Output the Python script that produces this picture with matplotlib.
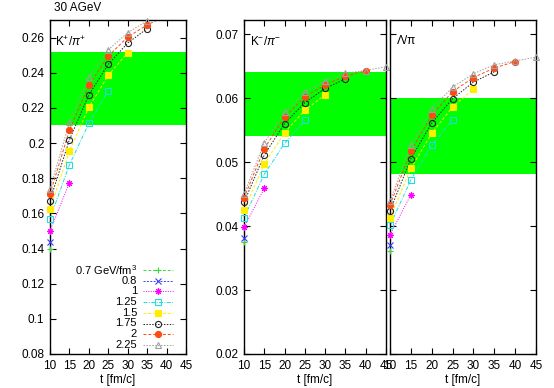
import matplotlib
matplotlib.use("Agg")
import matplotlib.pyplot as plt
import numpy as np

plt.rcParams['font.family'] = ['Liberation Sans', 'DejaVu Sans']
plt.rcParams['mathtext.fontset'] = 'custom'
plt.rcParams['mathtext.rm'] = 'Liberation Sans'
plt.rcParams['mathtext.it'] = 'Liberation Sans:italic'

# ---------------- data ----------------
t_steps = [10, 15, 20, 25, 30, 35, 40, 45]
energy_labels = ["0.7 GeV/fm$^3$", "0.8", "1", "1.25", "1.5", "1.75", "2", "2.25"]

# K+/pi+
kp_07 = [0.1398]
kp_08 = [0.1436]
kp_10 = [0.150, 0.1775]
kp_125 = [0.157, 0.1876, 0.2112, 0.2298]
kp_15 = [0.1624, 0.1954, 0.2204, 0.2385, 0.2515]
kp_175 = [0.1673, 0.2019, 0.2274, 0.2448, 0.2569, 0.2651]
kp_20 = [0.171, 0.2074, 0.2328, 0.2495, 0.2603, 0.2672, 0.2725]
kp_225 = [0.174, 0.2118, 0.2373, 0.253, 0.2628, 0.2695, 0.274, 0.278]

# K-/pi-
km_07 = [0.0375]
km_08 = [0.0382]
km_10 = [0.0398, 0.0459]
km_125 = [0.0413, 0.0481, 0.0529, 0.0565]
km_15 = [0.0425, 0.0497, 0.0546, 0.0581, 0.0605]
km_175 = [0.0437, 0.0511, 0.0560, 0.0593, 0.0615, 0.0630]
km_20 = [0.0444, 0.0521, 0.0570, 0.0602, 0.0621, 0.0634, 0.0643]
km_225 = [0.0450, 0.0530, 0.0578, 0.0609, 0.0627, 0.0639, 0.0643, 0.0649]

# Lambda/pi
lam_07 = [0.0361]
lam_08 = [0.0370]
lam_10 = [0.0386, 0.0449]
lam_125 = [0.0401, 0.0472, 0.0526, 0.0566]
lam_15 = [0.0413, 0.0490, 0.0545, 0.0586, 0.0614]
lam_175 = [0.0424, 0.0505, 0.0561, 0.0599, 0.0625, 0.0641]
lam_20 = [0.0433, 0.0517, 0.0573, 0.0610, 0.0632, 0.0647, 0.0657]
lam_225 = [0.0439, 0.0527, 0.0583, 0.0617, 0.0638, 0.0652, 0.0658, 0.0664]

# experimental bands (low, high)
band_kp = (0.2102, 0.252)
band_km = (0.0541, 0.0640)
band_lam = (0.0481, 0.0600)

panel_titles = ["K$^{+}$/$\\pi^{+}$", "K$^{-}$/$\\pi^{-}$", "Λ/π"]
x_ticks = [10, 15, 20, 25, 30, 35, 40, 45]
kp_yticks = [0.08, 0.10, 0.12, 0.14, 0.16, 0.18, 0.20, 0.22, 0.24, 0.26]
km_yticks = [0.02, 0.03, 0.04, 0.05, 0.06, 0.07]

# ---------------- styles ----------------
styles = [
    dict(color='#33dd33', marker='+', mfc='none', ms=5, dashes=(3, 2)),
    dict(color='#3a3aff', marker='x', mfc='none', ms=4, dashes=(2, 1.5)),
    dict(color='#ff00ff', marker=(8, 2, 0), mfc='#ff00ff', ms=4.5, dashes=(1, 1.5)),
    dict(color='#22dddd', marker='s', mfc='none', ms=4.2, dashes=(4, 1.5, 1, 1.5)),
    dict(color='#ffee00', marker='s', mfc='#ffee00', ms=4.2, dashes=(3, 2)),
    dict(color='#222222', marker='o', mfc='none', ms=4.4, dashes=(1.5, 1.5)),
    dict(color='#ff4a10', marker='o', mfc='#ff4a10', ms=4.4, dashes=(3, 2)),
    dict(color='#a0a0a0', marker='^', mfc='none', ms=4.4, dashes=(1.5, 1.5)),
]

fig = plt.figure(figsize=(5.54, 3.88), dpi=100)
W, H = 554, 388
def ax_at(l, r, t, b):
    return fig.add_axes([l / W, 1 - b / H, (r - l) / W, (b - t) / H])

ax1 = ax_at(50, 186, 20, 354)
ax2 = ax_at(244, 386, 20, 354)
ax3 = ax_at(390, 536, 20, 354)

panels = [
    (ax1, [kp_07, kp_08, kp_10, kp_125, kp_15, kp_175, kp_20, kp_225], band_kp, (0.08, 0.27)),
    (ax2, [km_07, km_08, km_10, km_125, km_15, km_175, km_20, km_225], band_km, (0.02, 0.0722)),
    (ax3, [lam_07, lam_08, lam_10, lam_125, lam_15, lam_175, lam_20, lam_225], band_lam, (0.02, 0.0722)),
]

for i, (ax, series, band, ylim) in enumerate(panels):
    ax.set_xlim(10, 45)
    ax.set_ylim(*ylim)
    ax.axhspan(band[0], band[1], color='#00ff00', lw=0, zorder=0)
    for vals, st in zip(series, styles):
        tt = np.array(t_steps[:len(vals)])
        vv = np.array(vals)
        ax.plot(tt, vv, color=st['color'], lw=0.7, dashes=st['dashes'], zorder=2)
        m = vv <= ylim[1]
        ax.plot(tt[m], vv[m], ls='none', marker=st['marker'], ms=st['ms'],
                mfc=st['mfc'], mec=st['color'], mew=0.8, clip_on=False, zorder=3)
    ax.set_xticks(x_ticks)
    ax.set_xticklabels([str(x) for x in x_ticks])
    ax.tick_params(direction='in', length=4, width=0.8, top=True, right=True,
                   labelsize=8.5, pad=4)
    for s in ax.spines.values():
        s.set_linewidth(1.0)
    ax.set_xlabel("t [fm/c]", fontsize=8.5, labelpad=2)
    ax.text(0.04 if i < 2 else 0.05, 0.955, panel_titles[i], transform=ax.transAxes,
            fontsize=8.5, va='top', ha='left')

ax1.set_yticks(kp_yticks)
ax1.set_yticklabels(["%g" % y for y in kp_yticks])
ax2.set_yticks(km_yticks)
ax2.set_yticklabels(["%g" % y for y in km_yticks])
ax3.set_yticks(km_yticks)
ax3.set_yticklabels([])

# manual legend (gnuplot style: right-aligned labels, sample on the right)
y0 = (354 - 270) / 334
dy = 10.7 / 334
for k, (lab, st) in enumerate(zip(energy_labels, styles)):
    yy = y0 - k * dy
    ax1.text(0.64, yy, lab, transform=ax1.transAxes, ha='right', va='center', fontsize=8)
    ax1.plot([0.684, 0.904], [yy, yy], transform=ax1.transAxes, color=st['color'],
             lw=0.7, dashes=st['dashes'], clip_on=False)
    ax1.plot([0.793], [yy], transform=ax1.transAxes, ls='none', marker=st['marker'],
             ms=st['ms'], mfc=st['mfc'], mec=st['color'], mew=0.8, clip_on=False)

fig.text(54 / W, 1 - 8 / H, "30 AGeV", fontsize=8.5, ha='left', va='center')

fig.savefig("out.png", dpi=100)
